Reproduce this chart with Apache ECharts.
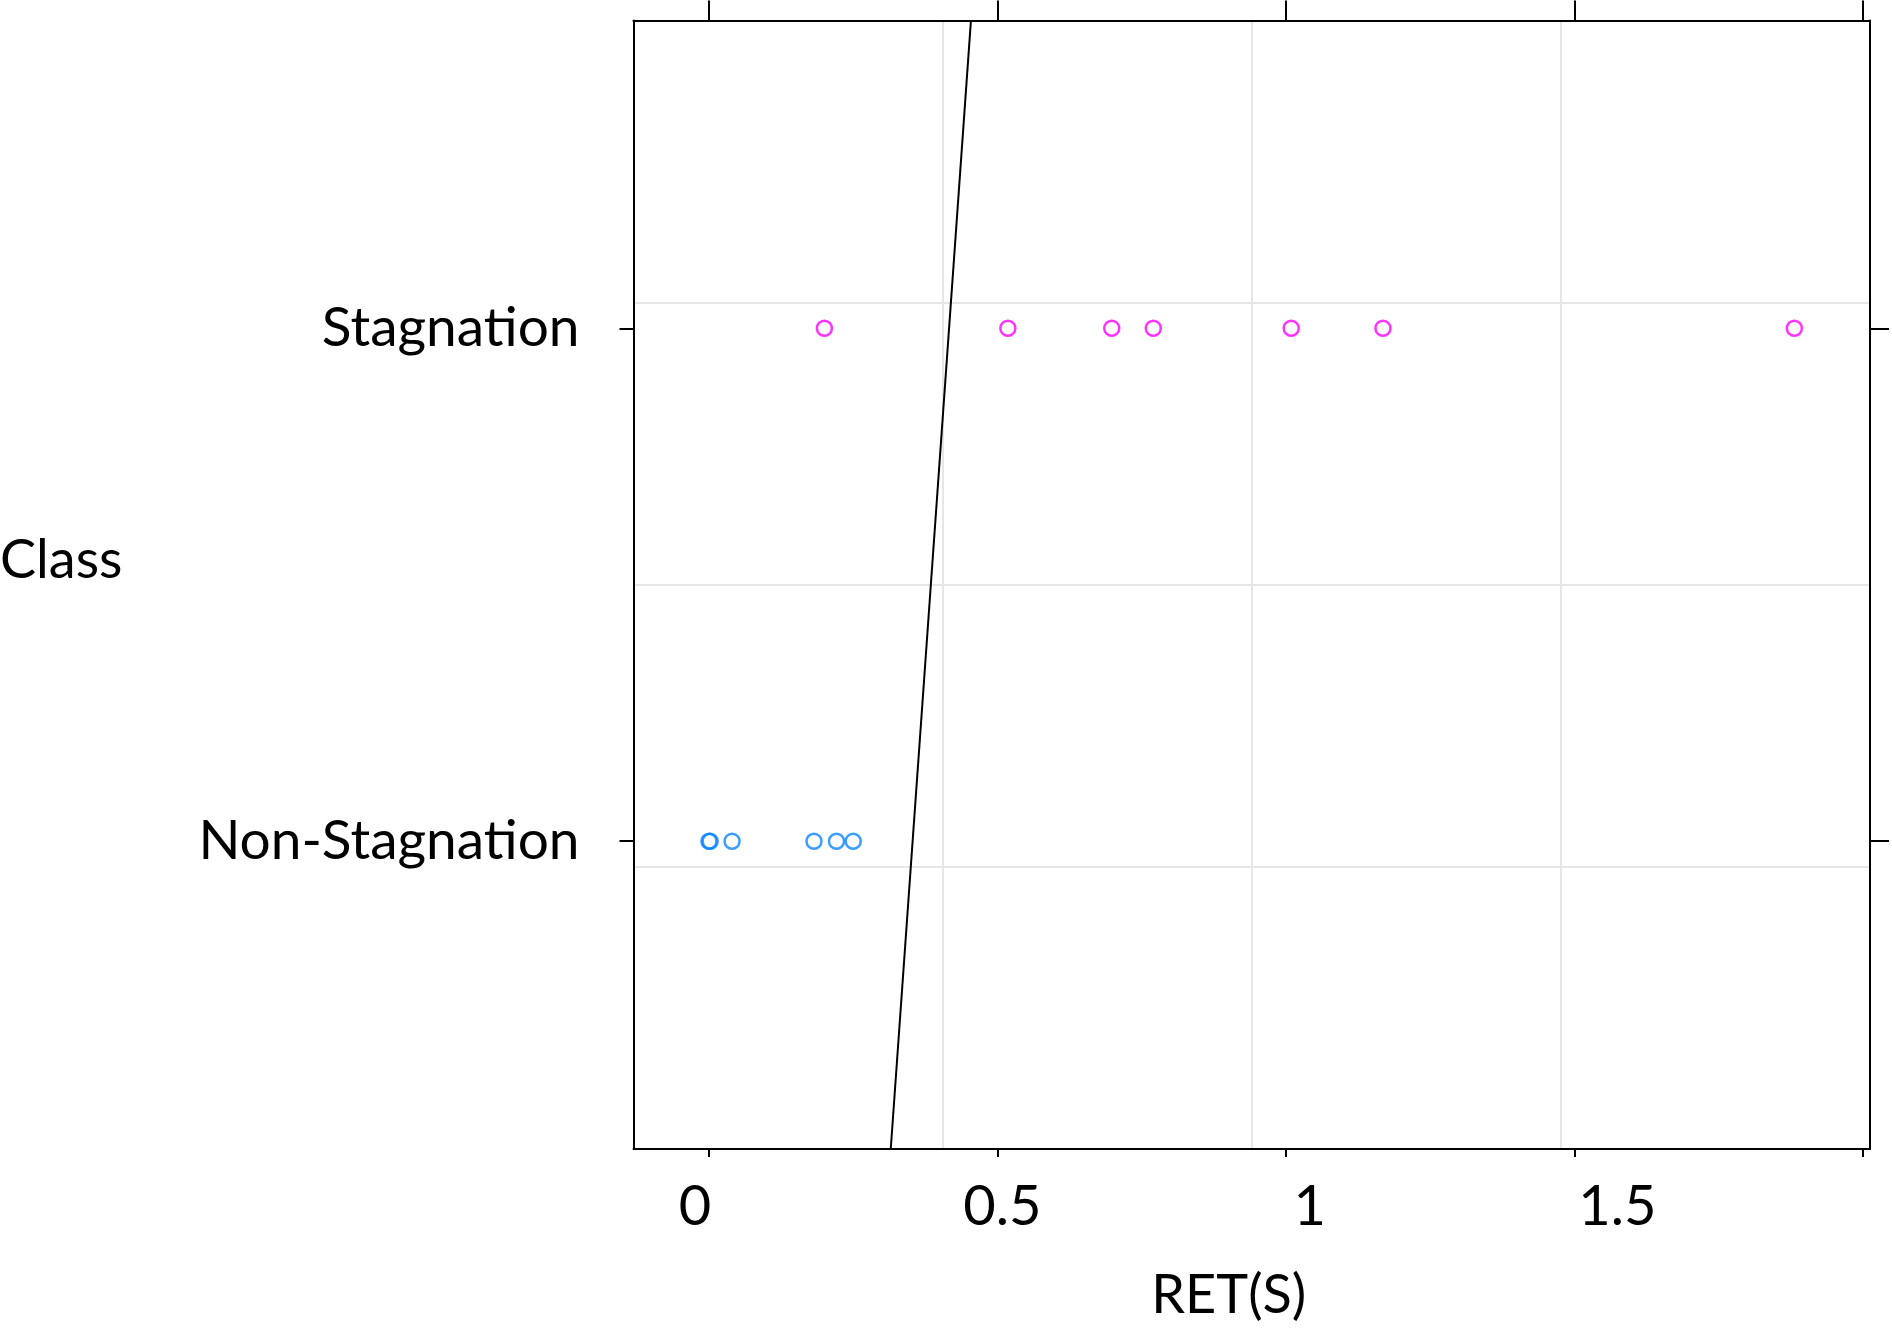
<!DOCTYPE html>
<html>
<head>
<meta charset="utf-8">
<script src="https://cdn.jsdelivr.net/npm/echarts@6/dist/echarts.min.js"></script>
<style>
html,body{margin:0;padding:0;background:#fff;}
#chart{width:1892px;height:1328px;}
</style>
</head>
<body>
<div id="chart"></div>
<script>
// ---- data ----
const classes = ['Non-Stagnation', 'Stagnation'];
const nonStagnationRET = [0, 0.002, 0.040, 0.182, 0.221, 0.250];
const stagnationRET = [0.200, 0.518, 0.698, 0.770, 1.009, 1.168, 1.881];
const boundaryRET = [0.315, 0.454];
const boundaryClass = [0.4, 2.6];
const tickValues = [0, 0.5, 1, 1.5, 2];
const tickLabels = [0, 0.5, 1, 1.5];
const classTicks = [1, 2];

const FONT = 'Lato';
const chart = echarts.init(document.getElementById('chart'), null, {renderer: 'canvas'});

const toPoints = (arr, cls) => arr.map(v => [v, classes.indexOf(cls) + 1]);
const frameLine = {show: true, onZero: false, lineStyle: {color: '#000', width: 2}};

const option = {
  animation: false,
  backgroundColor: '#ffffff',
  textStyle: {fontFamily: FONT},
  grid: {left: 633.5, right: 22, top: 20.5, bottom: 178},
  xAxis: [
    { // main data axis (bottom frame + ticks)
      type: 'value', position: 'bottom', min: -0.1308, max: 2.0121,
      axisLine: frameLine,
      axisTick: {show: true, customValues: tickValues, length: 8, lineStyle: {color: '#000', width: 2}},
      axisLabel: {show: false}, splitLine: {show: false}, z: 3
    },
    { // top frame + ticks
      type: 'value', position: 'top', min: -0.1308, max: 2.0121,
      axisLine: frameLine,
      axisTick: {show: true, customValues: tickValues, length: 20, lineStyle: {color: '#000', width: 2}},
      axisLabel: {show: false}, splitLine: {show: false}, z: 3
    },
    { // tick labels + axis title
      type: 'value', position: 'bottom', min: -0.1, max: 1.911,
      axisLine: {show: false, onZero: false}, axisTick: {show: false}, splitLine: {show: false},
      axisLabel: {show: true, customValues: tickLabels, fontSize: 56, color: '#000', margin: 30, fontFamily: FONT},
      name: 'RET(S)', nameLocation: 'middle', nameGap: 120,
      nameTextStyle: {fontSize: 54, color: '#000', fontFamily: FONT, padding: [0, 46, 0, 0]}
    },
    { // vertical grid lines
      type: 'value', position: 'bottom', min: 0, max: 2, interval: 0.5,
      axisLine: {show: false, onZero: false}, axisTick: {show: false}, axisLabel: {show: false},
      splitLine: {show: true, showMinLine: false, showMaxLine: false, lineStyle: {color: '#e6e6e6', width: 2}}, z: 0
    }
  ],
  yAxis: [
    {
      type: 'value', position: 'left', min: 0.4, max: 2.6,
      axisLine: frameLine,
      axisTick: {show: true, customValues: classTicks, length: 14, lineStyle: {color: '#000', width: 2}},
      axisLabel: {show: true, customValues: classTicks, fontSize: 55, color: '#000', margin: 54, fontFamily: FONT,
        padding: [0, 0, 6, 0],
        formatter: v => classes[Math.round(v) - 1]},
      splitLine: {show: false}, z: 3
    },
    {
      type: 'value', position: 'right', min: 0.4, max: 2.6,
      axisLine: frameLine,
      axisTick: {show: true, customValues: classTicks, length: 19, lineStyle: {color: '#000', width: 2}},
      axisLabel: {show: false}, splitLine: {show: false}, z: 3
    },
    { // horizontal grid lines
      type: 'value', position: 'left', min: 0, max: 1, interval: 0.25,
      axisLine: {show: false, onZero: false}, axisTick: {show: false}, axisLabel: {show: false},
      splitLine: {show: true, showMinLine: false, showMaxLine: false, lineStyle: {color: '#e6e6e6', width: 2}}, z: 0
    }
  ],
  graphic: [
    {type: 'text', left: 0, top: 534, style: {text: 'Class', font: '54px Lato', fill: '#000'}}
  ],
  series: [
    {
      name: 'Non-Stagnation', type: 'scatter', xAxisIndex: 0, yAxisIndex: 0,
      symbol: 'circle', symbolSize: 15,
      itemStyle: {color: 'rgba(0,0,0,0)', borderColor: '#0a84ff', borderWidth: 2.5},
      data: toPoints(nonStagnationRET, 'Non-Stagnation'), z: 5
    },
    {
      name: 'Stagnation', type: 'scatter', xAxisIndex: 0, yAxisIndex: 0,
      symbol: 'circle', symbolSize: 15,
      itemStyle: {color: 'rgba(0,0,0,0)', borderColor: '#ff00ff', borderWidth: 2.5},
      data: toPoints(stagnationRET, 'Stagnation'), z: 5
    },
    {
      name: 'Boundary', type: 'line', xAxisIndex: 0, yAxisIndex: 0,
      symbol: 'none', lineStyle: {color: '#000', width: 2}, clip: true,
      data: boundaryRET.map((x, i) => [x, boundaryClass[i]]), z: 4
    }
  ]
};
chart.setOption(option);
</script>
</body>
</html>
